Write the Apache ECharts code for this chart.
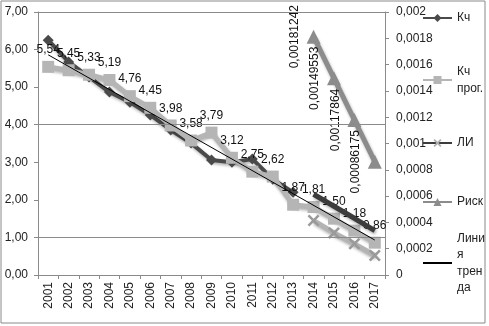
<!DOCTYPE html>
<html><head><meta charset="utf-8">
<script src="https://cdn.jsdelivr.net/npm/echarts@6/dist/echarts.min.js"></script>
<style>html,body{margin:0;padding:0;background:#fff}#c{width:489px;height:326px}</style>
</head><body><div id="c"></div>
<script>
const years = ['2001','2002','2003','2004','2005','2006','2007','2008','2009','2010','2011','2012','2013','2014','2015','2016','2017'];
const kch = [6.25,5.67,5.27,4.87,4.60,4.26,3.86,3.51,3.06,3.00,3.09,2.55,2.20,null,null,null,null];
const kchProg = [5.54,5.45,5.33,5.19,4.76,4.45,3.98,3.58,3.79,3.12,2.75,2.62,1.87,1.81,1.50,1.18,0.86];
const liUpper = [null,null,null,null,null,null,null,null,null,null,null,null,null,2.15,1.83,1.51,1.18];
const liLower = [null,null,null,null,null,null,null,null,null,null,null,null,null,1.45,1.12,0.83,0.52];
const risk = [null,null,null,null,null,null,null,null,null,null,null,null,null,0.00181242,0.00149553,0.00117864,0.00086175];
const trend = [5.86,null,null,null,null,null,null,null,null,null,null,null,null,null,null,null,0.93];
const leftAxis = {min:0, max:7, step:1};
const rightAxis = {min:0, max:0.002, step:0.0002};
const gridValues = [1,4,7];

const FF = '"Liberation Sans", Arial, sans-serif';
const XSYM = 'path://M0,1.5L1.5,0L5,3.5L8.5,0L10,1.5L6.5,5L10,8.5L8.5,10L5,6.5L1.5,10L0,8.5L3.5,5Z';
const shadow = {shadowColor:'rgba(0,0,0,0.3)', shadowBlur:3, shadowOffsetX:1, shadowOffsetY:2};
const comma = s => String(s).replace('.', ',');

function leg(name, top, fmt, lines) {
  const lh = 16.5;
  const o = {
    data:[{name:name}], left:422, top:top, orient:'vertical', padding:0,
    itemWidth:29, itemHeight:10, itemGap:0, selectedMode:false,
    textStyle:{fontSize:12, color:'#222', fontFamily:FF, lineHeight:lh, padding:[(lines-1)*lh,0,0,0]}
  };
  if (fmt) o.formatter = () => fmt;
  return o;
}

const chart = echarts.init(document.getElementById('c'), null, {renderer:'canvas'});
chart.setOption({
  animation:false,
  backgroundColor:'#fff',
  textStyle:{fontFamily:FF},
  graphic:[{type:'rect', shape:{x:1, y:1, width:484, height:322}, style:{fill:'none', stroke:'#8a8a8a', lineWidth:1}, silent:true}],
  grid:{left:38, right:104, top:12, bottom:51, containLabel:false},
  legend:[
    leg('Кч', 9.75, null, 1),
    leg('Кч прог.', 55.25, 'Кч\nпрог.', 2),
    leg('ЛИ', 134.75, null, 1),
    leg('Риск', 193.75, null, 1),
    leg('Линия тренда', 205.25, 'Лини\nя\nтрен\nда', 4)
  ],
  xAxis:{type:'category', data:years, boundaryGap:true,
    axisLine:{lineStyle:{color:'#8a8a8a'}},
    axisTick:{show:true, alignWithLabel:false, length:4, lineStyle:{color:'#8a8a8a'}},
    axisLabel:{rotate:90, interval:0, fontSize:12, color:'#222', fontFamily:FF, margin:7},
    splitLine:{show:false}},
  yAxis:[
    {type:'value', min:leftAxis.min, max:leftAxis.max, interval:leftAxis.step,
      axisLine:{show:true, lineStyle:{color:'#8a8a8a'}},
      axisTick:{show:true, length:4, lineStyle:{color:'#8a8a8a'}},
      axisLabel:{fontSize:12, color:'#222', fontFamily:FF, margin:10, formatter:v => comma(v.toFixed(2))},
      splitLine:{show:false}},
    {type:'value', position:'right', min:rightAxis.min, max:rightAxis.max, interval:rightAxis.step,
      axisLine:{show:true, lineStyle:{color:'#8a8a8a'}},
      axisTick:{show:true, length:4, lineStyle:{color:'#8a8a8a'}},
      axisLabel:{fontSize:12, color:'#222', fontFamily:FF, margin:11,
        formatter:v => v === 0 ? '0' : comma(parseFloat(v.toFixed(4)))},
      splitLine:{show:false}}
  ],
  series:[
    {name:'grid', type:'line', data:[], z:1, silent:true,
      markLine:{silent:true, symbol:['none','none'], label:{show:false},
        lineStyle:{color:'#8a8a8a', width:1, type:'solid'},
        data:gridValues.map(v => ({yAxis:v}))}},
    {name:'Кч', type:'line', data:kch, z:3, symbol:'diamond', symbolSize:11,
      itemStyle:{color:'#4a4a4a'}, lineStyle:Object.assign({color:'#4a4a4a', width:4}, shadow)},
    {name:'Кч прог.', type:'line', data:kchProg, z:4, symbol:'rect', symbolSize:12,
      itemStyle:{color:'#b5b5b5'}, lineStyle:Object.assign({color:'#b5b5b5', width:5}, shadow),
      label:{show:true, position:'top', distance:5, fontSize:12, color:'#111', fontFamily:FF,
        formatter:p => comma(p.value.toFixed(2))}},
    {name:'ЛИ', type:'line', data:liUpper, z:5, symbol:XSYM, showSymbol:false, symbolSize:12,
      itemStyle:{color:'#b0b0b0'}, lineStyle:Object.assign({color:'#3c3c3c', width:5}, shadow)},
    {name:'ЛИ', type:'line', data:liLower, z:4, symbol:XSYM, symbolSize:12,
      itemStyle:{color:'#9a9a9a'}, lineStyle:Object.assign({color:'#b3b3b3', width:5}, shadow)},
    {name:'Риск', type:'line', data:risk, yAxisIndex:1, z:4, symbol:'triangle', symbolSize:14,
      itemStyle:{color:'#8c8c8c'}, lineStyle:Object.assign({color:'#8c8c8c', width:5}, shadow),
      label:{show:true, position:'left', distance:12, rotate:90, align:'center', verticalAlign:'middle',
        fontSize:12, color:'#111', fontFamily:FF, formatter:p => comma(p.value)}},
    {name:'Линия тренда', type:'line', data:trend, z:6, connectNulls:true, symbol:'none',
      itemStyle:{color:'#000', opacity:0}, lineStyle:{color:'#000', width:1}}
  ]
});
</script></body></html>
